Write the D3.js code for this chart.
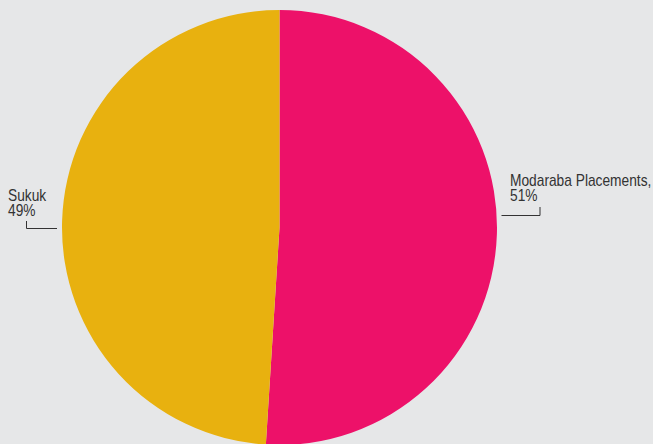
<!DOCTYPE html>
<html>
<head>
<script src="https://d3js.org/d3.v7.min.js" charset="utf-8"></script>
<style>
    body { margin: 0; background: #e6e7e8; }
    svg { display: block; }
    text { font-family: "Liberation Sans", Arial, sans-serif; font-size: 16px; fill: #333; }
</style>
</head>
<body>
<script>
    // data
    var categories = ["Modaraba Placements", "Sukuk"];
    var shares = [51, 49];
    var labels = [["Modaraba Placements,", "51%"], ["Sukuk", "49%"]];
    var colors = ["#ed1169", "#e8b10f"];

    var w = 653, h = 444;
    var cx = 279.5, cy = 227.5, r = 217.5;

    var svg = d3.select("body").append("svg")
        .attr("width", w)
        .attr("height", h);

    var pie = d3.pie().sort(null).value(function(d) { return d; });
    var arc = d3.arc().innerRadius(0).outerRadius(r);

    var g = svg.append("g").attr("transform", "translate(" + cx + "," + cy + ")");

    g.selectAll("path")
        .data(pie(shares))
        .enter()
        .append("path")
        .attr("d", arc)
        .attr("fill", function(d, i) { return colors[i]; });

    // labels + leader lines, placed like the original
    var labelPos = [
        { x: 510, y: 185.5, line: [[501.5, 215.5], [540, 215.5], [540, 207]] },
        { x: 8, y: 200.5, line: [[26.5, 221], [26.5, 228.5], [57, 228.5]] }
    ];

    labels.forEach(function(lines, i) {
        // condensed look: squeeze the text horizontally
        var t = svg.append("text")
            .attr("transform", "translate(" + labelPos[i].x + "," + labelPos[i].y + ") scale(0.86,1)");
        lines.forEach(function(s, j) {
            t.append("tspan")
                .attr("x", 0)
                .attr("dy", j == 0 ? 0 : 16)
                .text(s);
        });
        svg.append("path")
            .attr("d", d3.line()(labelPos[i].line))
            .attr("fill", "none")
            .attr("stroke", "#333")
            .attr("stroke-width", 1);
    });
</script>
</body>
</html>
